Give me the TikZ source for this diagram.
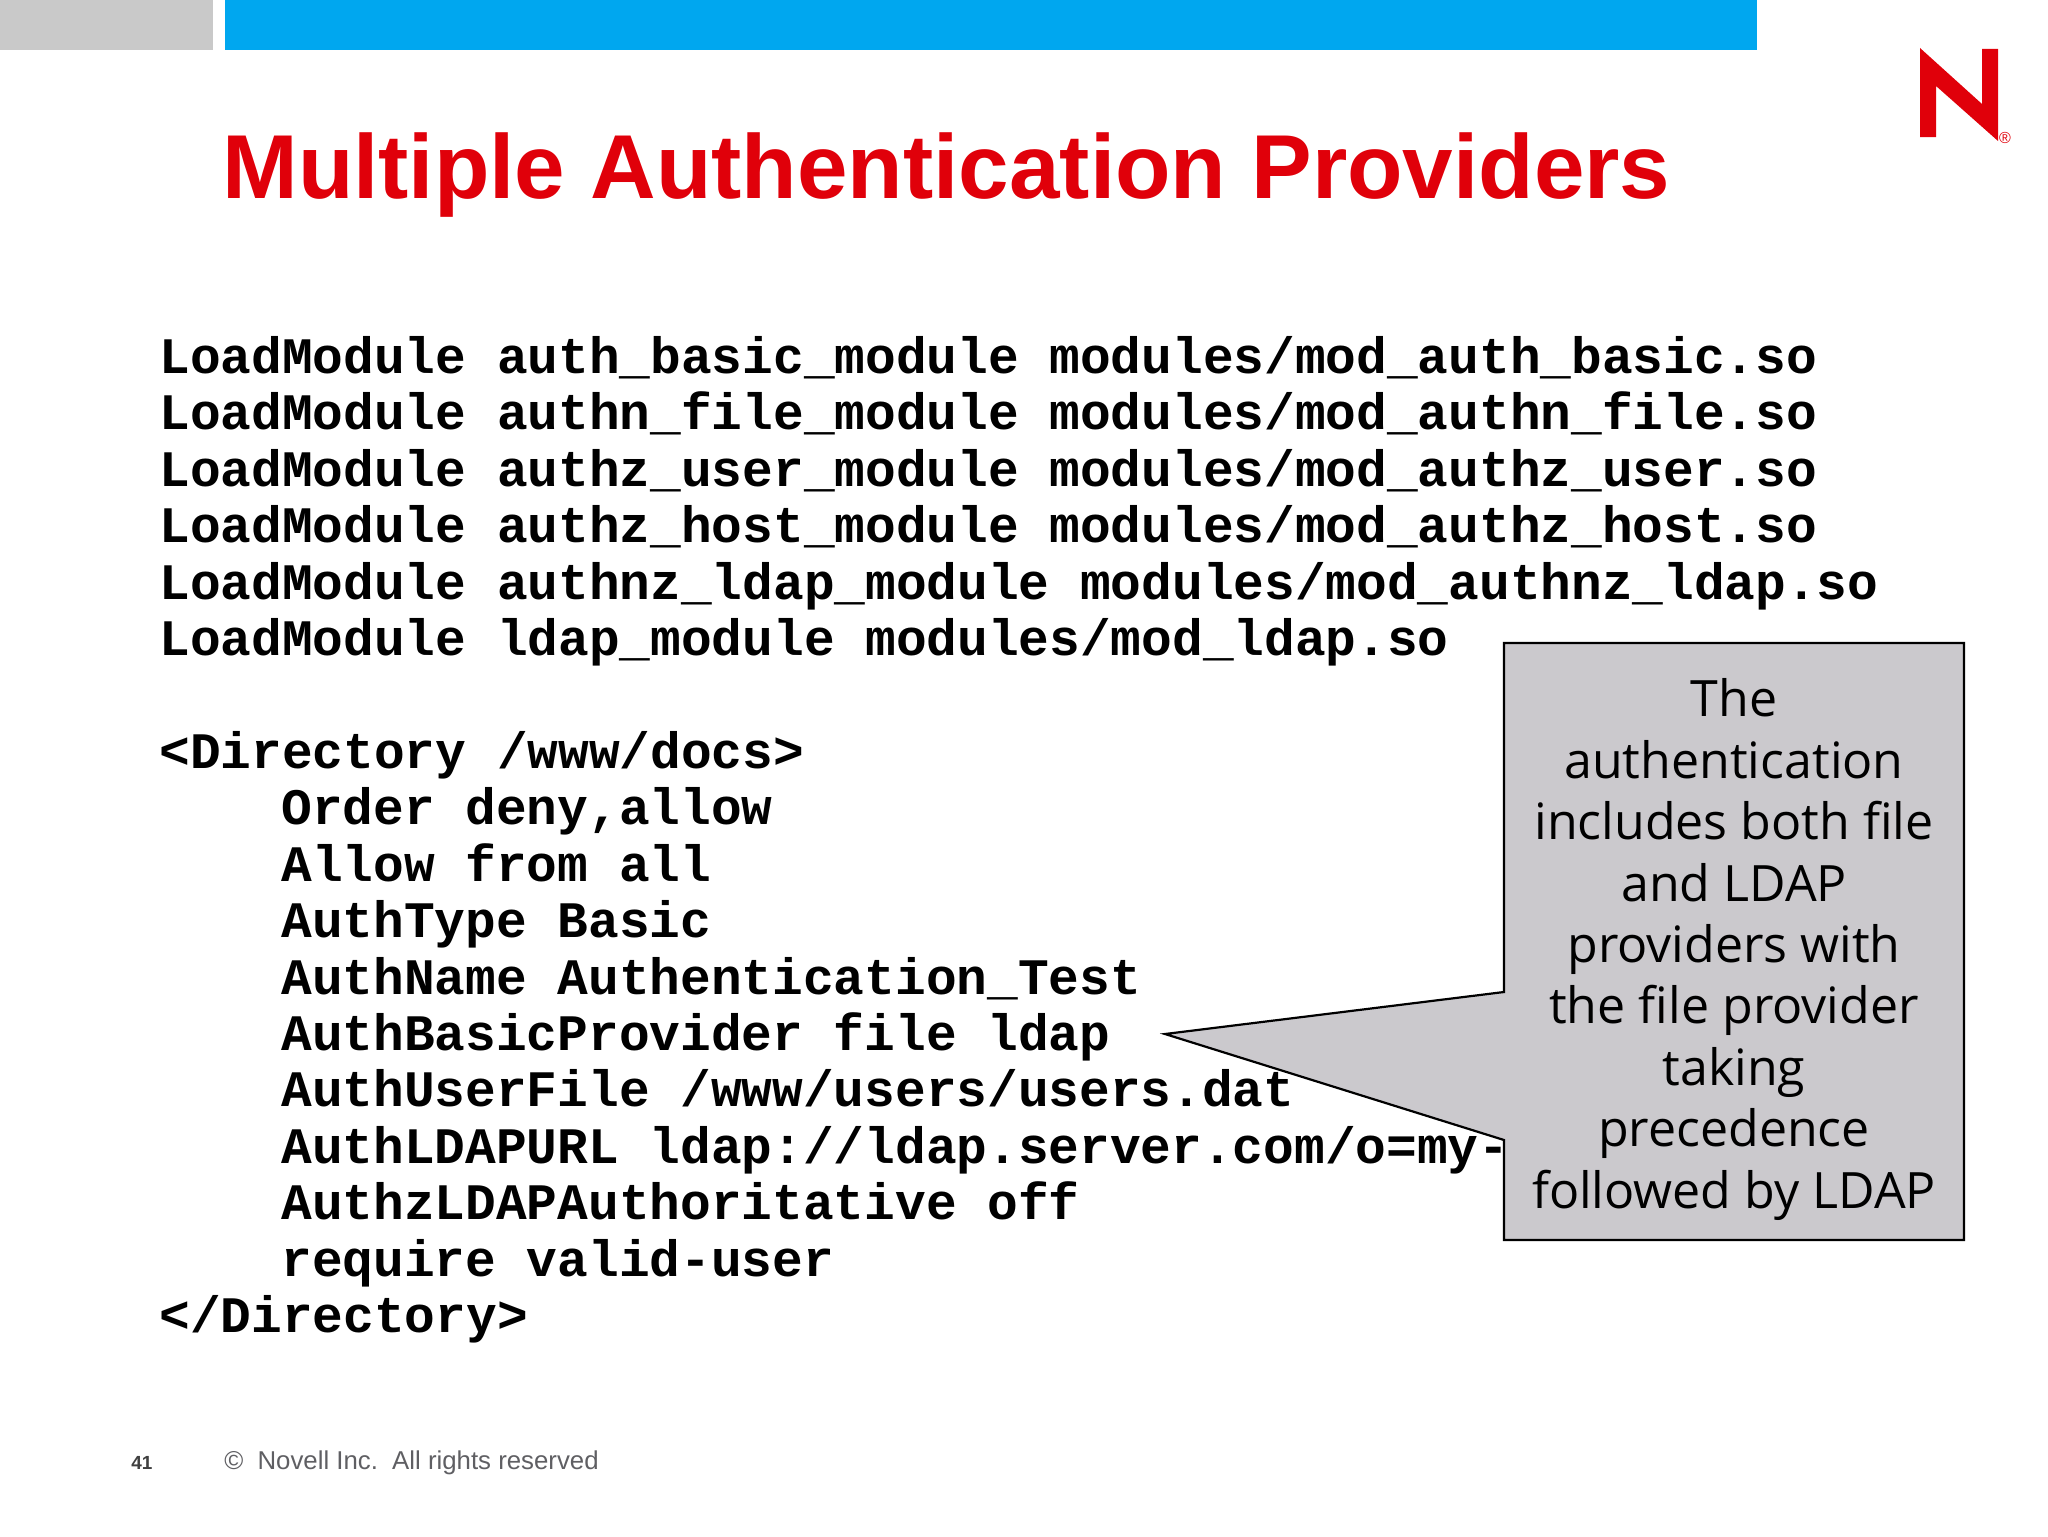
\documentclass[tikz,border=0pt]{standalone}
\usepackage{fontspec}
\setmainfont{Liberation Sans}
\setmonofont{Liberation Mono}
\newfontfamily\calloutfont{Open Sans}
\definecolor{novell-red}{HTML}{E0000A}
\definecolor{bar-blue}{HTML}{00A7EF}
\definecolor{bar-gray}{HTML}{C9C9C9}
\definecolor{callout-gray}{HTML}{CBC9CD}
\definecolor{footer-gray}{HTML}{5F5F63}
\begin{document}
\begin{tikzpicture}[x=0.5pt,y=-0.5pt,
code-line/.style = {anchor=base west,inner sep=0pt,font={\fontsize{25.58pt}{28pt}\selectfont\ttfamily\bfseries}},
callout-text/.style = {align=center,inner sep=0pt,font={\calloutfont\fontsize{25.05pt}{30.7pt}\selectfont}},
footer-text/.style = {anchor=base west,inner sep=0pt,text=footer-gray,font={\fontsize{12.9pt}{14pt}\selectfont}}
]
\useasboundingbox (0,0) rectangle (2048,1536);
\fill[bar-gray] (0,0) rectangle (213,50);
\fill[bar-blue] (225,0) rectangle (1757,50);
\fill[novell-red] (1920,48) -- (1982,104) -- (1982,49) -- (1998,49) -- (1998,141)
    -- (1936,86) -- (1936,137) -- (1920,137) -- cycle;
\node (registered) at (2005,138) [inner sep=0pt,text=novell-red,font={\fontsize{8pt}{8pt}\selectfont}] {®};
\node (title) at (222,198) [anchor=base west,inner sep=0pt,text=novell-red,font={\fontsize{45.4pt}{50pt}\selectfont\bfseries}] {Multiple Authentication Providers};
% modules
\node[code-line] (load-basic) at (159,373.5) {LoadModule auth\_basic\_module modules/mod\_auth\_basic.so};
\node[code-line] (load-file) at (159,429.5) {LoadModule authn\_file\_module modules/mod\_authn\_file.so};
\node[code-line] (load-user) at (159,486.5) {LoadModule authz\_user\_module modules/mod\_authz\_user.so};
\node[code-line] (load-host) at (159,542.5) {LoadModule authz\_host\_module modules/mod\_authz\_host.so};
\node[code-line] (load-authnz) at (159,599.5) {LoadModule authnz\_ldap\_module modules/mod\_authnz\_ldap.so};
\node[code-line] (load-ldap) at (159,655.5) {LoadModule ldap\_module modules/mod\_ldap.so};
% directory block
\node[code-line] (dir-open) at (159,768.5) {<Directory /www/docs>};
\node[code-line] (dir-order) at (281,824.5) {Order deny,allow};
\node[code-line] (dir-allow) at (281,881.5) {Allow from all};
\node[code-line] (dir-type) at (281,937.5) {AuthType Basic};
\node[code-line] (dir-name) at (281,994.5) {AuthName Authentication\_Test};
\node[code-line] (dir-provider) at (281,1050.5) {AuthBasicProvider file ldap};
\node[code-line] (dir-file) at (281,1106.5) {AuthUserFile /www/users/users.dat};
\node[code-line] (dir-url) at (281,1163.5) {AuthLDAPURL ldap://ldap.server.com/o=my-};
\node[code-line] (dir-auth) at (281,1219.5) {AuthzLDAPAuthoritative off};
\node[code-line] (dir-require) at (281,1276.5) {require valid-user};
\node[code-line] (dir-close) at (159,1332.5) {</Directory>};
% callout
\draw[fill=callout-gray,line width=1.1pt,miter limit=10] (1504,643) -- (1964,643) -- (1964,1240) -- (1504,1240)
    -- (1504,1140) -- (1165,1034) -- (1504,992) -- cycle;
\node[callout-text] (callout) at (1734,949.5) {The\\authentication\\includes both file\\and LDAP\\providers with\\the file provider\\taking\\precedence\\followed by LDAP};
% footer
\node (page) at (131,1469) [anchor=base west,inner sep=0pt,text=black!75,font={\fontsize{9.5pt}{10pt}\selectfont\bfseries}] {41};
\node[footer-text] (copyright) at (224,1469) {©\hspace{0.55em}Novell Inc.\hspace{0.55em}All rights reserved};
\end{tikzpicture}
\end{document}
